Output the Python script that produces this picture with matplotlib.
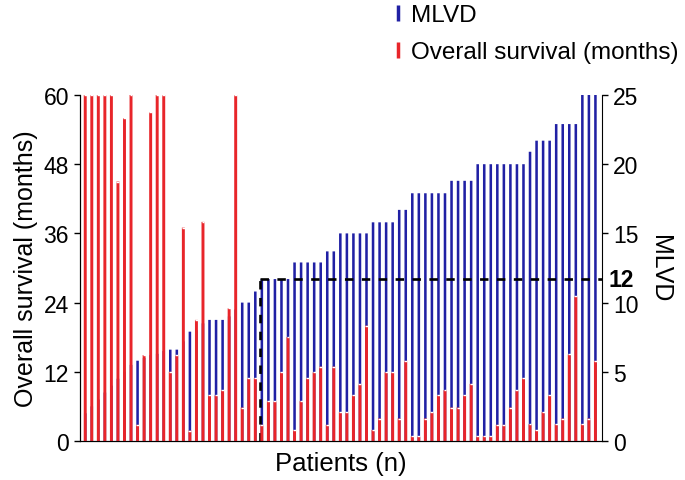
import matplotlib
matplotlib.use('Agg')
import matplotlib.pyplot as plt
from matplotlib.lines import Line2D
import numpy as np

plt.rcParams['font.family'] = ['Liberation Sans', 'DejaVu Sans']

# overall survival in months, one value per patient (sorted by MLVD)
os_months = [60, 60, 60, 60, 60, 45, 56, 60, 2.8, 14.9,
             57, 60, 60, 12, 14.9, 37, 1.8, 21, 38, 7.9,
             7.9, 8.8, 23, 60, 5.8, 10.9, 10.9, 2.8, 6.9, 6.9,
             11.9, 18, 1.9, 6.9, 10.9, 11.9, 12.9, 2.8, 12.9, 5.0,
             5.0, 7.9, 9.9, 20, 1.9, 3.9, 11.9, 11.9, 3.9, 13.9,
             0.8, 0.8, 3.9, 5.0, 7.9, 8.8, 5.8, 5.8, 7.9, 9.9,
             0.8, 0.8, 0.8, 2.8, 2.8, 5.8, 8.8, 10.9, 2.9, 1.9,
             5.0, 7.9, 2.9, 3.9, 15.0, 25.1, 2.9, 3.9, 13.9]

# microlymphatic vessel density
mlvd = [2.0, 2.5, 3.0, 3.5, 4.0, 4.5, 5.0, 5.5, 5.8, 6.0,
        6.2, 6.3, 6.5, 6.6, 6.6, 7.2, 7.9, 8.0, 8.5, 8.75,
        8.75, 8.75, 9.0, 9.5, 10.0, 10.0, 10.8, 11.7, 11.7, 11.7,
        11.7, 11.7, 12.9, 12.9, 12.9, 12.9, 12.9, 13.7, 13.7, 15.0,
        15.0, 15.0, 15.0, 15.0, 15.8, 15.8, 15.8, 15.8, 16.7, 16.7,
        17.9, 17.9, 17.9, 17.9, 17.9, 17.9, 18.8, 18.8, 18.8, 18.8,
        20, 20, 20, 20, 20, 20, 20, 20, 20.9, 21.7,
        21.7, 21.7, 22.9, 22.9, 22.9, 22.9, 25, 25, 25]

cutoff = 11.7        # drawn position of the "12" cut-off line
cutoff_x = 26.7      # first patient above the cut-off

os_ticks = [0, 12, 24, 36, 48, 60]
mlvd_ticks = [0, 5, 10, 15, 20, 25]

blue = '#2020a4'
red = '#e8252a'

fig = plt.figure(figsize=(6.85, 4.81), dpi=100)
ax = fig.add_axes([0.1168, 0.0811, 0.762, 0.7193])
ax2 = ax.twinx()

x = np.arange(len(os_months))
bw_blue = 0.39
bw_red = 0.45   # a bit wider so the red hides the blue edges

ax2.bar(x, mlvd, width=bw_blue, color=blue, linewidth=0, snap=False)
ax.bar(x, os_months, width=bw_red, color=red, linewidth=0, snap=False)
# thin white cap on top of each red bar
ax.hlines(os_months, x - bw_red / 2, x + bw_red / 2, color='white', lw=1.0)

# red bars in front of the blue ones
ax.set_zorder(ax2.get_zorder() + 1)
ax.patch.set_visible(False)

# cut-off lines
ax2.plot([cutoff_x, cutoff_x], [0, cutoff], color='black', lw=1.9,
         linestyle=(0, (3.2, 3.2)), clip_on=False, zorder=5)
ax2.plot([cutoff_x, 79], [cutoff, cutoff], color='black', lw=1.9,
         linestyle=(0, (3.2, 3.2)), zorder=5)

ax.set_xlim(-0.8, 79)
ax.set_ylim(0, 60)
ax2.set_ylim(0, 25)
ax.set_yticks(os_ticks)
ax2.set_yticks(mlvd_ticks)
ax.set_xticks([])

for a in (ax, ax2):
    a.spines['top'].set_visible(False)
    a.tick_params(axis='y', direction='out', length=4, width=1,
                  labelsize=16.5, pad=4)
ax.spines['right'].set_visible(False)

ax2.text(1.012, cutoff, '12', transform=ax2.get_yaxis_transform(),
         fontsize=16.5, fontweight='bold', va='center', ha='left')

ax.set_ylabel('Overall survival (months)', fontsize=18, labelpad=4)
ax2.set_ylabel('MLVD', fontsize=18, rotation=270, labelpad=24)
ax.set_xlabel('Patients (n)', fontsize=18.5, labelpad=7)

handles = [Line2D([], [], color=blue, marker='|', markersize=12,
                  markeredgewidth=2.5, linestyle='none'),
           Line2D([], [], color=red, marker='|', markersize=12,
                  markeredgewidth=2.5, linestyle='none')]
fig.legend(handles, ['MLVD', 'Overall survival (months)'],
           loc='upper left', bbox_to_anchor=(0.535, 1.035), frameon=False,
           fontsize=17.5, handlelength=0.8, handletextpad=0.15,
           labelspacing=0.62)

fig.savefig('out.png', dpi=100)
